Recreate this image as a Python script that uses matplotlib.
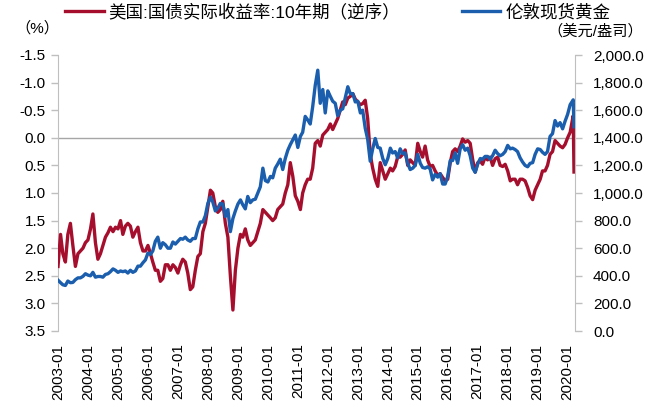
import matplotlib
matplotlib.use("Agg")
import matplotlib.pyplot as plt
import matplotlib.dates as mdates
import matplotlib.ticker as mticker
import numpy as np
import pandas as pd

plt.rcParams['font.family'] = ['Liberation Sans', 'Noto Sans CJK SC', 'DejaVu Sans']

# ---------------- data (monthly readings) ----------------
real_yield = [
    # 2003
    2.33, 1.75, 2.10, 2.25, 1.75, 1.55, 1.95, 2.33, 2.10, 2.05, 2.00, 1.90,
    # 2004
    1.85, 1.65, 1.38, 1.90, 2.20, 2.10, 1.95, 1.80, 1.72, 1.62, 1.70, 1.62,
    # 2005
    1.65, 1.50, 1.75, 1.60, 1.55, 1.60, 1.80, 1.70, 1.62, 1.90, 2.05, 2.05,
    # 2006
    1.95, 2.10, 2.25, 2.40, 2.40, 2.60, 2.55, 2.30, 2.30, 2.40, 2.30, 2.35,
    # 2007
    2.45, 2.30, 2.20, 2.25, 2.45, 2.75, 2.70, 2.40, 2.15, 2.10, 1.70, 1.55,
    # 2008
    1.25, 0.95, 1.00, 1.25, 1.35, 1.30, 1.15, 1.55, 1.80, 2.50, 3.12, 2.40,
    # 2009
    2.00, 1.75, 1.80, 1.65, 1.85, 1.95, 1.90, 1.85, 1.70, 1.55, 1.30, 1.35,
    # 2010
    1.40, 1.45, 1.50, 1.45, 1.30, 1.25, 1.20, 1.00, 0.85, 0.45, 0.70, 1.05,
    # 2011
    1.15, 1.30, 1.00, 0.85, 0.75, 0.75, 0.55, 0.10, 0.05, 0.15, -0.05, -0.10,
    # 2012
    -0.15, -0.25, -0.15, -0.25, -0.35, -0.50, -0.65, -0.60, -0.72, -0.75, -0.80, -0.70,
    # 2013
    -0.65, -0.60, -0.62, -0.68, -0.35, 0.30, 0.55, 0.75, 0.88, 0.45, 0.60, 0.75,
    # 2014
    0.65, 0.55, 0.60, 0.52, 0.35, 0.35, 0.30, 0.22, 0.50, 0.40, 0.45, 0.50,
    # 2015
    0.10, 0.25, 0.35, 0.15, 0.40, 0.52, 0.50, 0.60, 0.68, 0.65, 0.72, 0.78,
    # 2016
    0.75, 0.45, 0.25, 0.20, 0.25, 0.15, 0.02, 0.08, 0.05, 0.10, 0.40, 0.62,
    # 2017
    0.45, 0.42, 0.48, 0.35, 0.40, 0.35, 0.50, 0.38, 0.35, 0.50, 0.52, 0.48,
    # 2018
    0.60, 0.78, 0.75, 0.75, 0.85, 0.75, 0.75, 0.78, 0.90, 1.05, 1.12, 0.95,
    # 2019
    0.85, 0.75, 0.60, 0.60, 0.50, 0.30, 0.25, 0.05, 0.10, 0.15, 0.18, 0.12,
    # 2020
    0.00, -0.10, -0.40, 0.62,
]

gold = [
    # 2003
    368, 350, 335, 330, 362, 350, 352, 372, 385, 385, 396, 415,
    # 2004
    405, 400, 425, 390, 395, 395, 390, 410, 415, 430, 450, 440,
    # 2005
    425, 435, 430, 435, 420, 440, 425, 435, 470, 470, 495, 515,
    # 2006
    565, 555, 580, 650, 680, 600, 640, 625, 600, 600, 645, 630,
    # 2007
    650, 670, 665, 680, 660, 650, 670, 670, 740, 790, 790, 835,
    # 2008
    925, 970, 935, 870, 890, 925, 920, 830, 880, 720, 815, 870,
    # 2009
    920, 950, 915, 885, 975, 930, 950, 955, 1000, 1045, 1180, 1090,
    # 2010
    1080, 1120, 1110, 1180, 1210, 1245, 1170, 1250, 1310, 1350, 1385, 1420,
    # 2011
    1330, 1410, 1440, 1555, 1530, 1500, 1625, 1780, 1890, 1650, 1750, 1580,
    # 2012
    1740, 1700, 1665, 1650, 1560, 1600, 1610, 1690, 1770, 1720, 1720, 1660,
    # 2013
    1665, 1580, 1600, 1470, 1390, 1230, 1320, 1395, 1330, 1325, 1250, 1205,
    # 2014
    1250, 1325, 1290, 1300, 1255, 1320, 1285, 1290, 1215, 1170, 1180, 1200,
    # 2015
    1280, 1215, 1185, 1180, 1190, 1175, 1095, 1135, 1115, 1140, 1065, 1065,
    # 2016
    1120, 1235, 1235, 1290, 1215, 1320, 1350, 1310, 1325, 1270, 1180, 1150,
    # 2017
    1210, 1250, 1245, 1265, 1265, 1245, 1270, 1310, 1285, 1270, 1280, 1300,
    # 2018
    1345, 1320, 1325, 1315, 1300, 1255, 1225, 1200, 1190, 1215, 1220, 1280,
    # 2019
    1320, 1315, 1295, 1280, 1300, 1410, 1430, 1525, 1485, 1510, 1465, 1520,
    # 2020
    1570, 1640, 1675, 1480,
]

monthly_dates = list(pd.date_range('2003-01-01', '2020-02-01', freq='MS'))
extra_dates = [pd.Timestamp('2020-03-09'), pd.Timestamp('2020-03-19')]
dates = monthly_dates + extra_dates

label_red = '美国:国债实际收益率:10年期（逆序）'
label_blue = '伦敦现货黄金'
left_unit = '（%）'
right_unit = '（美元/盎司）'

left_ticks = [-1.5, -1.0, -0.5, 0.0, 0.5, 1.0, 1.5, 2.0, 2.5, 3.0, 3.5]
right_ticks = list(range(0, 2001, 200))

RED = '#A50F2D'
BLUE = '#1A5EAD'
GREY = '#BFBFBF'

# ---------------- figure ----------------
fig = plt.figure(figsize=(6.56, 4.11), dpi=100)
ax = fig.add_axes([58/656, 1-331/411, (575-58)/656, (331-55)/411])
ax2 = ax.twinx()

ax.axhline(0, color='#A6A6A6', lw=1.0, zorder=1)
l1, = ax.plot(dates, real_yield, color=RED, lw=2.4, zorder=3, label=label_red)
l2, = ax2.plot(dates, gold, color=BLUE, lw=2.4, zorder=3, label=label_blue)

ax.set_ylim(3.5, -1.5)
ax.set_yticks(left_ticks)
ax.yaxis.set_major_formatter(mticker.FormatStrFormatter('%.1f'))
ax2.set_ylim(0, 2000)
ax2.set_yticks(right_ticks)
ax2.yaxis.set_major_formatter(mticker.FuncFormatter(lambda v, p: f'{v:,.1f}'))

ax.set_xlim(pd.Timestamp('2003-01-01'), pd.Timestamp('2020-03-31'))
ax.xaxis.set_major_locator(mdates.YearLocator(1, month=1, day=1))
ax.xaxis.set_major_formatter(mdates.DateFormatter('%Y-%m'))

for a in (ax, ax2):
    for s in a.spines.values():
        s.set_visible(False)
ax.spines['left'].set_visible(True)
ax.spines['left'].set_color(GREY)
ax2.spines['right'].set_visible(True)
ax2.spines['right'].set_color(GREY)

ax.tick_params(axis='y', direction='out', length=5, width=1, color=GREY,
               labelsize=11, pad=4, labelcolor='#000000')
ax2.tick_params(axis='y', direction='out', length=5, width=1, color=GREY,
                labelsize=11, pad=8, labelcolor='#000000')
ax.tick_params(axis='x', length=0, labelsize=11, pad=9, labelrotation=90,
               labelcolor='#000000')

fig.text(37/656, 1-28/411, left_unit, ha='center', va='center', fontsize=11)
fig.text(595/656, 1-31/411, right_unit, ha='center', va='center', fontsize=11)

fig.legend(handles=[l1, l2], loc='center left',
           bbox_to_anchor=(65/656, 1-12/411), ncol=2, frameon=False,
           fontsize=12.6, handlelength=2.2, handletextpad=0.3,
           columnspacing=3.5, borderpad=0, borderaxespad=0)

fig.savefig('out.png', dpi=100)
